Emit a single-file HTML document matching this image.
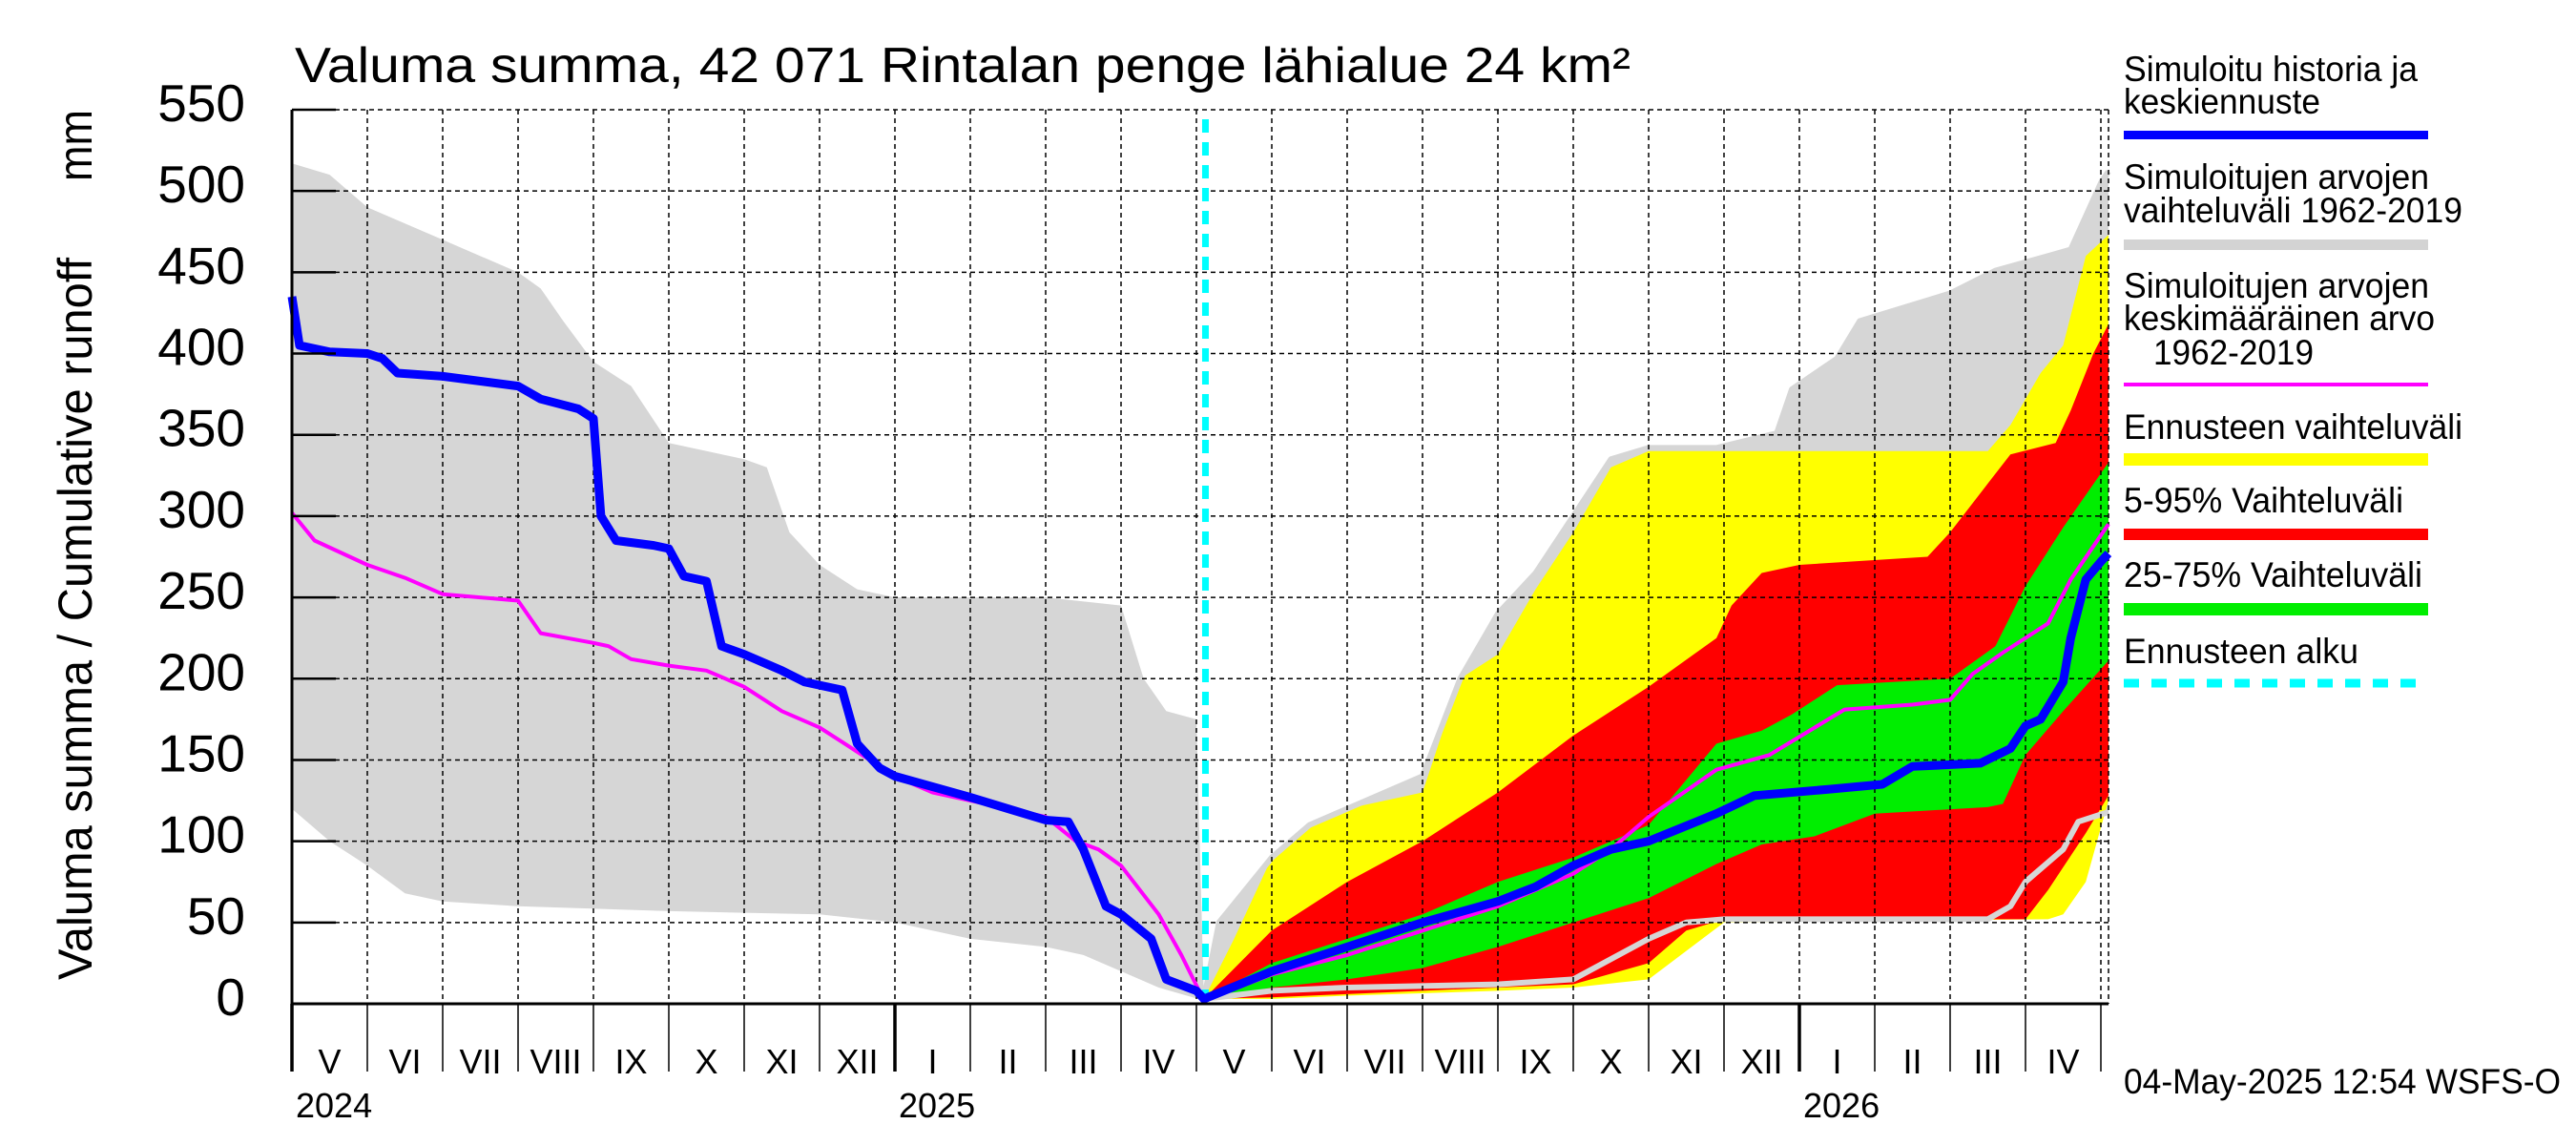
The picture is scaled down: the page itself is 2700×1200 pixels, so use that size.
<!DOCTYPE html>
<html><head><meta charset="utf-8"><style>
html,body{margin:0;padding:0;background:#fff;}
svg{display:block;font-family:"Liberation Sans",sans-serif;}
</style></head><body>
<svg id="c" width="2700" height="1200" viewBox="0 0 2700 1200" xmlns="http://www.w3.org/2000/svg">
<g id="bands"></g>
<g id="grid"></g>
<g id="lines"></g>
<g id="axes"></g>
<text x="309" y="86" font-size="52" textLength="1400" lengthAdjust="spacingAndGlyphs">Valuma summa, 42 071 Rintalan penge lähialue 24 km²</text>
<text transform="translate(96,1027) rotate(-90)" font-size="50" textLength="757" lengthAdjust="spacingAndGlyphs">Valuma summa / Cumulative runoff</text>
<text transform="translate(96,190) rotate(-90)" font-size="50" textLength="75" lengthAdjust="spacingAndGlyphs">mm</text>
<g font-size="37">
<text x="2226" y="85" textLength="308" lengthAdjust="spacingAndGlyphs">Simuloitu historia ja</text>
<text x="2226" y="119" textLength="206" lengthAdjust="spacingAndGlyphs">keskiennuste</text>
<rect x="2226" y="137" width="319" height="9" fill="#0000ff"/>
<text x="2226" y="198" textLength="320" lengthAdjust="spacingAndGlyphs">Simuloitujen arvojen</text>
<text x="2226" y="233" textLength="355" lengthAdjust="spacingAndGlyphs">vaihteluväli 1962-2019</text>
<rect x="2226" y="251" width="319" height="11" fill="#d3d3d3"/>
<text x="2226" y="312" textLength="320" lengthAdjust="spacingAndGlyphs">Simuloitujen arvojen</text>
<text x="2226" y="346" textLength="326" lengthAdjust="spacingAndGlyphs">keskimääräinen arvo</text>
<text x="2257" y="382" textLength="168" lengthAdjust="spacingAndGlyphs">1962-2019</text>
<rect x="2226" y="401" width="319" height="4" fill="#ff00ff"/>
<text x="2226" y="460" textLength="355" lengthAdjust="spacingAndGlyphs">Ennusteen vaihteluväli</text>
<rect x="2226" y="475" width="319" height="13" fill="#ffff00"/>
<text x="2226" y="537" textLength="293" lengthAdjust="spacingAndGlyphs">5-95% Vaihteluväli</text>
<rect x="2226" y="554" width="319" height="12" fill="#ff0000"/>
<text x="2226" y="615" textLength="313" lengthAdjust="spacingAndGlyphs">25-75% Vaihteluväli</text>
<rect x="2226" y="632" width="319" height="13" fill="#00ee00"/>
<text x="2226" y="695" textLength="246" lengthAdjust="spacingAndGlyphs">Ennusteen alku</text>
<line x1="2226" y1="716" x2="2545" y2="716" stroke="#00ffff" stroke-width="9" stroke-dasharray="16 13"/>
</g>
<text x="2226" y="1146" font-size="37" textLength="458" lengthAdjust="spacingAndGlyphs">04-May-2025 12:54 WSFS-O</text>
</svg>
<script>
// month index t (0 = 1 May 2024), values in mm
const grayUpT=[0,0.5,1,2,3,3.3,3.6,4,4.5,5,5.5,6,6.3,6.6,7,7.5,8,9,10,11,11.3,11.6,12,12.1];
const grayUpV=[517,510,490,470,450,440,420,395,380,345,340,335,330,290,270,255,250,250,250,245,200,180,175,2];
const grayLoT=[0,0.5,1,1.5,2,3,5,7,8,9,10,10.5,11,11.5,12.1];
const grayLoV=[120,100,85,68,63,60,57,55,50,40,35,30,20,10,2];
const fGrayUpT=[12.1,12.3,13,13.5,14,15,15.5,16,16.5,17,17.5,18,18.9,19.7,19.9,20.5,20.8,22,22.6,23.3,23.6,24,24.1];
const fGrayUpV=[3,50,90,110,120,140,200,240,265,300,335,342,342,351,378,397,420,437,451,460,464,505,512];
const fGrayLoT=[12.1,13,14,16,17,18,18.5,19,22.5,22.8,23,23.5,23.7,24.1];
const fGrayLoV=[3,8,10,12,15,40,50,52,52,60,75,95,112,118];
const yelUpT=[12.1,12.5,13,13.5,14,15,15.5,16,16.5,17,17.5,18,22.5,22.8,23.2,23.5,23.8,24.1];
const yelUpV=[3,40,90,110,120,130,200,215,255,290,330,340,340,356,388,405,460,473];
const yelLoT=[12.1,13,14,16,17,18,19,23.3,23.5,23.8,24.1];
const yelLoV=[3,3,5,8,10,15,50,52,55,75,125];
const redUpT=[12.1,13,14,15,16,17,18,18.9,19.1,19.5,20,21.7,22,22.5,22.8,23.4,23.6,23.9,24.1];
const redUpV=[3,45,75,100,130,165,195,225,245,265,270,275,290,320,338,345,365,400,418];
const redLoT=[12.1,13,15,17,18,18.5,19,23,23.3,23.8,24.1];
const redLoV=[3,4,8,12,25,45,52,52,70,105,128];
const grnUpT=[12.1,13,14,15,16,17,18,18.9,19.5,19.9,20.5,22,22.6,23,23.5,24.1];
const grnUpV=[3,25,40,55,75,90,110,160,168,178,196,200,220,257,293,333];
const grnLoT=[12.1,13,14,15,16,17,18,18.9,19.5,20.2,21,22.5,22.7,23,23.5,24.1];
const grnLoV=[3,10,15,22,35,50,65,86,98,103,117,121,123,153,180,211];
const blueT=[0,0.1,0.5,1,1.2,1.4,2,3,3.3,3.8,4,4.1,4.3,4.8,5,5.2,5.5,5.7,6,6.5,6.8,7,7.3,7.5,7.8,8,9,9.5,10,10.3,10.5,10.8,11,11.4,11.6,12,12.1,13,14,15,16,16.5,17,17.5,18,18.9,19.4,20.4,21.1,21.5,22.4,22.8,23,23.2,23.5,23.6,23.8,24,24.1];
const blueV=[435,405,401,400,397,388,386,380,372,366,360,300,285,282,280,263,260,220,215,205,198,196,193,160,145,140,127,120,113,112,95,60,55,40,15,8,3,20,35,50,63,72,85,95,100,117,128,132,135,146,148,157,171,175,198,225,261,272,277];
const magT=[0,0.3,1,1.5,2,3,3.3,4,4.2,4.5,5,5.5,6,6.5,7,7.5,8,8.5,9,10,10.4,10.7,11,11.5,11.8,12.1,13,14,15,16,17,17.5,18,18.9,19.6,20.6,21.5,22,22.3,22.7,23.3,23.6,24.1];
const magV=[302,285,270,262,252,248,228,222,220,212,208,205,195,180,170,155,140,130,125,115,100,95,85,55,30,2,18,30,45,60,80,95,115,144,153,181,184,187,203,216,234,261,295];
const yTicks=[0,50,100,150,200,250,300,350,400,450,500,550];
const months=["V","VI","VII","VIII","IX","X","XI","XII","I","II","III","IV","V","VI","VII","VIII","IX","X","XI","XII","I","II","III","IV"];
const years=["2024","2025","2026"];
const yearStart=[0,8,20];
const forecastStart=12.12;

const NS="http://www.w3.org/2000/svg";
const X=t=>306+t*79;
const Y=v=>1052-v*(937/550);
function mk(tag,attrs,parent){const e=document.createElementNS(NS,tag);for(const k in attrs)e.setAttribute(k,attrs[k]);parent.appendChild(e);return e;}
function pts(T,V){return T.map((t,i)=>X(t).toFixed(1)+","+Y(V[i]).toFixed(1));}
function band(uT,uV,lT,lV,fill,name){
  const p=pts(uT,uV).concat(pts(lT,lV).reverse());
  const e=mk('polygon',{points:p.join(' '),fill:fill},document.getElementById('bands'));
  
  
}
function line(T,V,stroke,w,name,parent){
  const e=mk('polyline',{points:pts(T,V).join(' '),fill:'none',stroke:stroke,'stroke-width':w,'stroke-linejoin':'round'},parent);
  
  
}
band(grayUpT,grayUpV,grayLoT,grayLoV,'#d6d6d6','history-range-band');
band(fGrayUpT,fGrayUpV,fGrayLoT,fGrayLoV,'#d6d6d6','forecast-history-range-band');
band(yelUpT,yelUpV,yelLoT,yelLoV,'#ffff00','forecast-range-band');
band(redUpT,redUpV,redLoT,redLoV,'#ff0000','p5-95-band');
band(grnUpT,grnUpV,grnLoT,grnLoV,'#00ee00','p25-75-band');
const B=document.getElementById('bands');
line(fGrayUpT,fGrayUpV,'#d6d6d6',6,'forecast-range-upper-line',B);
line(fGrayLoT,fGrayLoV,'#d6d6d6',6,'forecast-range-lower-line',B);

const G=document.getElementById('grid');
yTicks.forEach(v=>{ if(v===0)return;
  const e=mk('line',{x1:306,x2:2210,y1:Y(v),y2:Y(v),stroke:'#000','stroke-width':1.5,'stroke-dasharray':'5 4'},G);
  
  
});
for(let i=1;i<=24;i++){
  const e=mk('line',{x1:X(i),x2:X(i),y1:115,y2:1052,stroke:'#000','stroke-width':1.5,'stroke-dasharray':'5 4'},G);
  
  
}
const rb=mk('line',{x1:2210,x2:2210,y1:115,y2:1052,stroke:'#000','stroke-width':1.5,'stroke-dasharray':'5 4'},G);



const L=document.getElementById('lines');
const cy=mk('line',{x1:X(forecastStart),x2:X(forecastStart),y1:125,y2:1050,stroke:'#00ffff','stroke-width':7,'stroke-dasharray':'14 10'},L);


line(magT,magV,'#ff00ff',4,'mean-line',L);
line(blueT,blueV,'#0000ff',9,'simulated-line',L);

const A=document.getElementById('axes');
[[306,115,306,1052],[306,1052,2210,1052]].forEach(a=>{
  const e=mk('line',{x1:a[0],y1:a[1],x2:a[2],y2:a[3],stroke:'#000','stroke-width':3},A);
  
  
});
yTicks.forEach(v=>{
  const tk=mk('line',{x1:306,x2:352,y1:Y(v),y2:Y(v),stroke:'#000','stroke-width':2.5},A);
  
  
  const t=mk('text',{x:257,y:Y(v)+12,'font-size':55,'text-anchor':'end'},A);
  t.textContent=String(v);
  
  
});
for(let i=0;i<=24;i++){
  const isYear=yearStart.indexOf(i)>=0;
  const e=mk('line',{x1:X(i),x2:X(i),y1:1052,y2:1123,stroke:'#000','stroke-width':isYear?3.5:1.5},A);
  
  
}
months.forEach((m,i)=>{
  const t=mk('text',{x:X(i+0.5),y:1125,'font-size':36,'text-anchor':'middle'},A);
  t.textContent=m;
  
  
});
years.forEach((y,i)=>{
  const t=mk('text',{x:X(yearStart[i])+4,y:1171,'font-size':36},A);
  t.textContent=y;
  
  
});
</script>
</body></html>
